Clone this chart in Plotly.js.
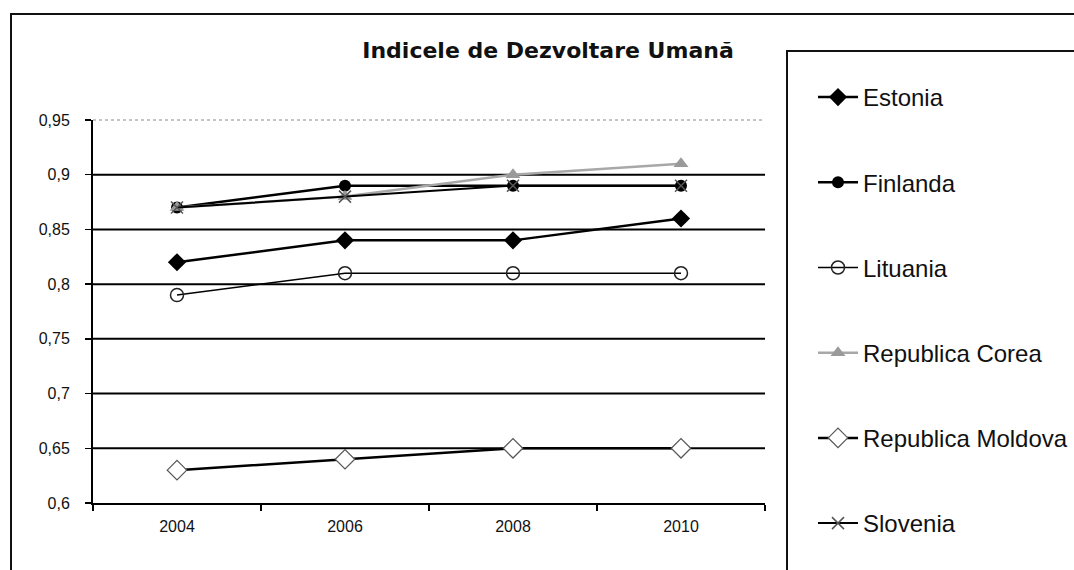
<!DOCTYPE html>
<html>
<head>
<meta charset="utf-8">
<script src="https://cdn.plot.ly/plotly-3.0.1.min.js"></script>
<style>html,body{margin:0;padding:0;background:#fff;}#chart{width:1074px;height:570px;}</style>
</head>
<body>
<div id="chart"></div>
<script>
const years = ['2004', '2006', '2008', '2010'];
const estonia = [0.82, 0.84, 0.84, 0.86];
const finlanda = [0.87, 0.89, 0.89, 0.89];
const lituania = [0.79, 0.81, 0.81, 0.81];
const coreea = [0.87, 0.88, 0.90, 0.91];
const moldova = [0.63, 0.64, 0.65, 0.65];
const slovenia = [0.87, 0.88, 0.89, 0.89];
const gridValues = [0.65, 0.7, 0.75, 0.8, 0.85, 0.9];
const titleText = 'Indicele de Dezvoltare Umană';

// plot-area geometry in pixels
const L = 93, R = 765, T = 120, B = 503, W = 1074, H = 570;
const px = x => (x - L) / (R - L);
const py = y => (B - y) / (B - T);

function tr(name, y, line, marker, g) {
  return {type: 'scatter', mode: 'lines+markers', name: name, x: years, y: y,
    line: line, marker: marker, legendgroup: g, cliponaxis: false};
}

const data = [
  tr('Estonia', estonia, {color: '#000', width: 2.5}, {symbol: 'diamond', size: 14, color: '#000'}, 'a'),
  tr('Finlanda', finlanda, {color: '#000', width: 2.5}, {symbol: 'circle', size: 12, color: '#000'}, 'b'),
  tr('Lituania', lituania, {color: '#000', width: 1.5}, {symbol: 'circle-open', size: 13, color: '#222', line: {width: 1.5}}, 'c'),
  tr('Republica Corea', coreea, {color: '#a8a8a8', width: 2.5}, {symbol: 'triangle-up', size: 13, color: '#9a9a9a'}, 'd'),
  tr('Republica Moldova', moldova, {color: '#000', width: 2.5}, {symbol: 'diamond', size: 15, color: '#fff', line: {color: '#555', width: 1.2}}, 'e'),
  tr('Slovenia', slovenia, {color: '#000', width: 2}, {symbol: 'x-thin', size: 12, color: '#555', line: {color: '#555', width: 1.5}}, 'f')
];

const shapes = gridValues.map(v => ({type: 'line', layer: 'below', xref: 'paper', yref: 'y',
  x0: 0, x1: 1, y0: v, y1: v, line: {color: '#000', width: 2}}));
shapes.push({type: 'line', layer: 'below', xref: 'paper', yref: 'paper', x0: 0, x1: 1, y0: 1, y1: 1,
  line: {color: '#888', width: 1, dash: 'dot'}});
// outer frame
shapes.push({type: 'rect', xref: 'paper', yref: 'paper', x0: px(11), x1: px(W + 10), y0: py(14), y1: py(H + 10),
  line: {color: '#111', width: 2}});
// legend frame
shapes.push({type: 'rect', xref: 'paper', yref: 'paper', x0: px(787), x1: px(W + 10), y0: py(51), y1: py(H + 10),
  line: {color: '#111', width: 2}});

const layout = {
  width: W, height: H,
  margin: {l: L, r: W - R, t: T, b: H - B, autoexpand: false},
  paper_bgcolor: '#fff', plot_bgcolor: 'rgba(0,0,0,0)',
  separators: ', ',
  font: {family: 'Liberation Sans, Arial, sans-serif', color: '#111', size: 16},
  title: {text: titleText, x: 548 / W, xanchor: 'center', y: 1 - 50 / H, yanchor: 'middle',
    font: {family: 'DejaVu Sans, sans-serif', size: 22, weight: 'bold', color: '#111'}},
  xaxis: {type: 'category', range: [-0.5, 3.5], showgrid: false, zeroline: false,
    showline: true, linecolor: '#000', linewidth: 2, ticks: 'outside', tickson: 'boundaries',
    ticklen: 6, tickwidth: 1.5, tickcolor: '#000', tickfont: {size: 16}, ticklabelstandoff: 8},
  yaxis: {range: [0.6, 0.95], dtick: 0.05, tick0: 0.6, showgrid: false, zeroline: false,
    showline: true, linecolor: '#000', linewidth: 2, ticks: 'outside', ticklen: 6, tickwidth: 1.5,
    tickcolor: '#000', tickfont: {size: 16}, ticklabelstandoff: 12},
  showlegend: true,
  legend: {x: px(813), xanchor: 'left', y: py(75), yanchor: 'top', bgcolor: 'rgba(0,0,0,0)',
    traceorder: 'grouped', tracegroupgap: 51, font: {size: 24, family: 'Liberation Sans, Arial, sans-serif'},
    itemwidth: 40, maxheight: 560},
  shapes: shapes
};

Plotly.newPlot('chart', data, layout, {displayModeBar: false, staticPlot: true});
</script>
</body>
</html>
